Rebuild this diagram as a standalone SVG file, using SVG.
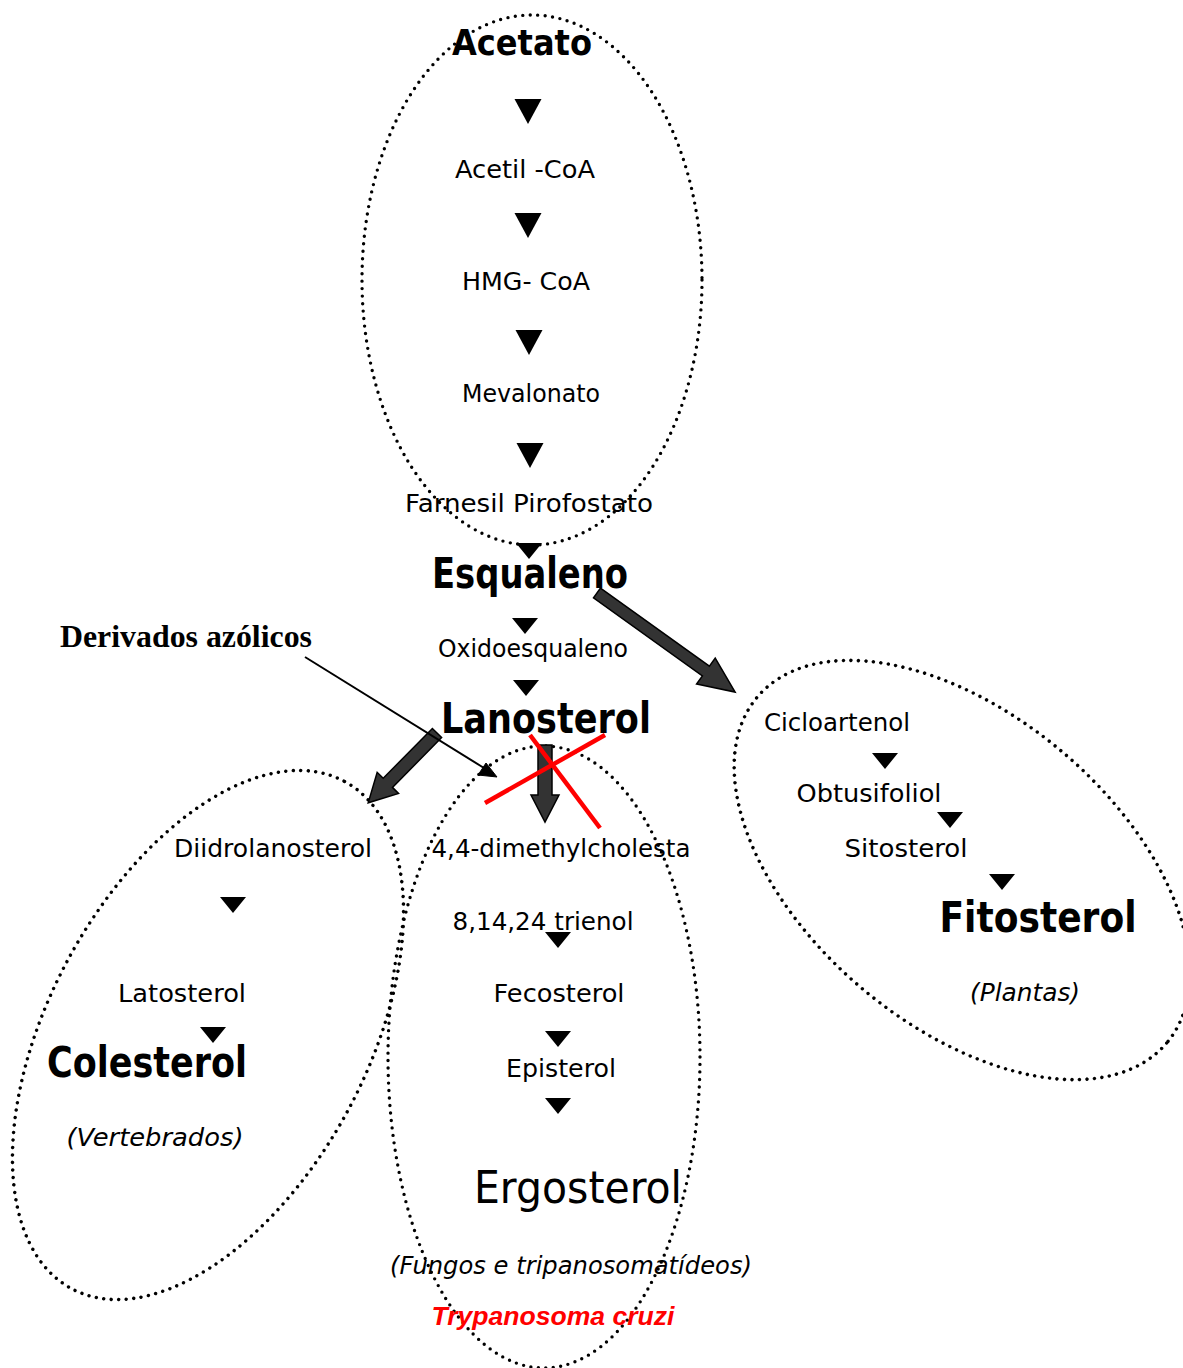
<svg xmlns="http://www.w3.org/2000/svg" width="1183" height="1368" viewBox="0 0 1183 1368">
<style>
.bg{fill:#ffffff}
.ell{fill:none;stroke:#000;stroke-width:3.4;stroke-dasharray:0 7.5;stroke-linecap:round}
.t{font-family:"DejaVu Sans","Liberation Sans",sans-serif;font-size:25px;fill:#000;text-anchor:middle}
.b{font-family:"DejaVu Sans","Liberation Sans",sans-serif;font-weight:bold;font-size:42px;fill:#000;text-anchor:middle}
.i{font-family:"DejaVu Sans","Liberation Sans",sans-serif;font-style:italic;font-size:25px;fill:#000;text-anchor:middle}
.blk{fill:#333;stroke:#000;stroke-width:1.5;stroke-linejoin:miter}
.red{stroke:#ff0000;stroke-width:4.5;fill:none}
</style>
<defs>
<path id="tb" d="M-13.5,0 L13.5,0 L0,25 Z" fill="#000"/>
<path id="ts" d="M-13,0 L13,0 L0,16 Z" fill="#000"/>
</defs>
<rect class="bg" x="0" y="0" width="1183" height="1368"/>

<g id="ellipses">
<ellipse class="ell" cx="532" cy="280" rx="170" ry="265"/>
<ellipse class="ell" cx="962" cy="870" rx="268" ry="155" transform="rotate(40.2 962 870)"/>
<ellipse class="ell" cx="208" cy="1035" rx="288" ry="159" transform="rotate(-61.7 208 1035)"/>
<ellipse class="ell" cx="544" cy="1057" rx="156" ry="311"/>
</g>

<g id="connectors">
<use href="#tb" x="528" y="99"/>
<use href="#tb" x="528" y="213"/>
<use href="#tb" x="529" y="330"/>
<use href="#tb" x="530" y="443"/>
<use href="#ts" x="529" y="543"/>
<use href="#ts" x="525" y="618"/>
<use href="#ts" x="526" y="680"/>
<use href="#ts" x="885" y="753"/>
<use href="#ts" x="950" y="812"/>
<use href="#ts" x="1002" y="874"/>
<use href="#ts" x="233" y="897"/>
<use href="#ts" x="213" y="1027"/>
<use href="#ts" x="558" y="932"/>
<use href="#ts" x="558" y="1031"/>
<use href="#ts" x="558" y="1098"/>
<path class="blk" transform="translate(597 593) rotate(35.65)" d="M0,-6 L134,-6 L134,-16 L170,0 L134,16 L134,6 L0,6 Z"/>
<path class="blk" transform="translate(437 733) rotate(134.6)" d="M0,-6.5 L70,-6.5 L70,-15 L98,0 L70,15 L70,6.5 L0,6.5 Z"/>
<path class="blk" transform="translate(545 745) rotate(90)" d="M0,-7 L50,-7 L50,-14 L77,0 L50,14 L50,7 L0,7 Z"/>
<line x1="305" y1="657" x2="484" y2="768" stroke="#000" stroke-width="2"/>
<path d="M497,777 L478,775 L486,763 Z" fill="#000" stroke="#000" stroke-width="1"/>
<line class="red" x1="485" y1="803" x2="605" y2="735"/>
<line class="red" x1="530" y1="735" x2="600" y2="828"/>
</g>

<g id="n-acetato"><text class="b" x="522" y="55" style="font-size:36px" textLength="140" lengthAdjust="spacingAndGlyphs">Acetato</text></g>
<g id="n-acetilcoa"><text class="t" x="525" y="178" textLength="140" lengthAdjust="spacingAndGlyphs">Acetil -CoA</text></g>
<g id="n-hmgcoa"><text class="t" x="526" y="290" textLength="128" lengthAdjust="spacingAndGlyphs">HMG- CoA</text></g>
<g id="n-mevalonato"><text class="t" x="531" y="402" textLength="138" lengthAdjust="spacingAndGlyphs">Mevalonato</text></g>
<g id="n-farnesil"><text class="t" x="529" y="512" textLength="248" lengthAdjust="spacingAndGlyphs">Farnesil Pirofostato</text></g>
<g id="n-esqualeno"><text class="b" x="530" y="588" textLength="196" lengthAdjust="spacingAndGlyphs">Esqualeno</text></g>
<g id="n-oxido"><text class="t" x="533" y="657" textLength="190" lengthAdjust="spacingAndGlyphs">Oxidoesqualeno</text></g>
<g id="n-lanosterol"><text class="b" x="546" y="733" textLength="210" lengthAdjust="spacingAndGlyphs">Lanosterol</text></g>
<g id="n-azolicos"><text x="186" y="647" font-family="'Liberation Serif','Times New Roman',serif" font-weight="bold" font-size="31" text-anchor="middle" textLength="252" lengthAdjust="spacingAndGlyphs">Derivados azólicos</text></g>

<g id="n-cicloartenol"><text class="t" x="837" y="731" textLength="146" lengthAdjust="spacingAndGlyphs">Cicloartenol</text></g>
<g id="n-obtusifoliol"><text class="t" x="869" y="802" textLength="145" lengthAdjust="spacingAndGlyphs">Obtusifoliol</text></g>
<g id="n-sitosterol"><text class="t" x="906" y="857" textLength="123" lengthAdjust="spacingAndGlyphs">Sitosterol</text></g>
<g id="n-fitosterol"><text class="b" x="1038" y="932" textLength="197" lengthAdjust="spacingAndGlyphs">Fitosterol</text></g>
<g id="n-plantas"><text class="i" x="1025" y="1001" textLength="110" lengthAdjust="spacingAndGlyphs">(Plantas)</text></g>

<g id="n-diidro"><text class="t" x="273" y="857" textLength="198" lengthAdjust="spacingAndGlyphs">Diidrolanosterol</text></g>
<g id="n-latosterol"><text class="t" x="182" y="1002" textLength="128" lengthAdjust="spacingAndGlyphs">Latosterol</text></g>
<g id="n-colesterol"><text class="b" x="147" y="1077" textLength="200" lengthAdjust="spacingAndGlyphs">Colesterol</text></g>
<g id="n-vertebrados"><text class="i" x="155" y="1146" textLength="177" lengthAdjust="spacingAndGlyphs">(Vertebrados)</text></g>

<g id="n-dimethyl"><text class="t" x="561" y="857" textLength="259" lengthAdjust="spacingAndGlyphs">4,4-dimethylcholesta</text></g>
<g id="n-trienol"><text class="t" x="543" y="930" textLength="181" lengthAdjust="spacingAndGlyphs">8,14,24 trienol</text></g>
<g id="n-fecosterol"><text class="t" x="559" y="1002" textLength="131" lengthAdjust="spacingAndGlyphs">Fecosterol</text></g>
<g id="n-episterol"><text class="t" x="561" y="1077" textLength="110" lengthAdjust="spacingAndGlyphs">Episterol</text></g>
<g id="n-ergosterol"><text class="t" x="578" y="1203" style="font-size:44px" textLength="208" lengthAdjust="spacingAndGlyphs">Ergosterol</text></g>
<g id="n-fungos"><text class="i" x="571" y="1274" textLength="362" lengthAdjust="spacingAndGlyphs">(Fungos e tripanosomatídeos)</text></g>
<g id="n-tcruzi"><text x="553" y="1325" font-family="'Liberation Sans',Arial,sans-serif" font-weight="bold" font-style="italic" font-size="26" fill="#ff0000" text-anchor="middle" textLength="243" lengthAdjust="spacingAndGlyphs">Trypanosoma cruzi</text></g>
</svg>
